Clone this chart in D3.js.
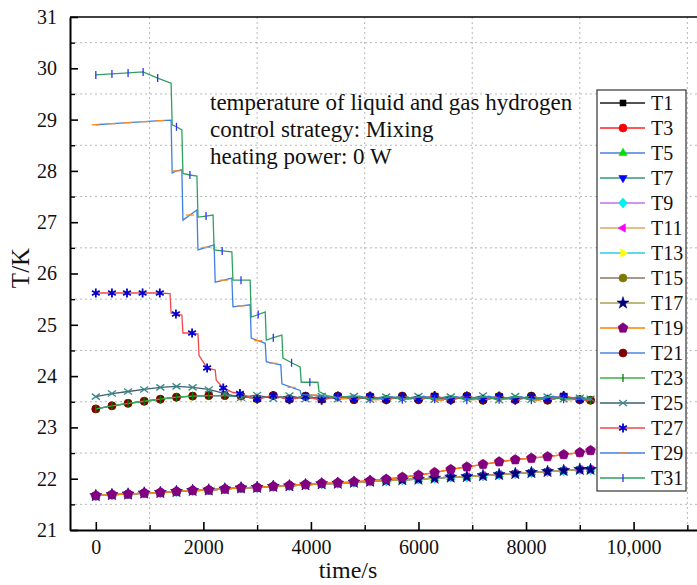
<!DOCTYPE html>
<html lang="en">
<head>
    <meta charset="UTF-8">
    <title>T/K vs time</title>
    <script src="https://d3js.org/d3.v7.min.js"></script>
    <style>
        body { margin: 0; background: #fff; }
        svg { display: block; }
        svg text { font-family: "Liberation Serif", "Times New Roman", Times, "DejaVu Serif", serif; fill: #111; }
        .grid line { stroke: #b8b8b8; stroke-width: 1; stroke-dasharray: 2,3; }
        .axis path, .axis line { stroke: #000; }
        .axis text { font-size: 20px; }
    </style>
</head>
<body>
<div id="chart"></div>
<script>
    // Zeitachse für die gleichmäßig abgetasteten Kurven (s)
    const timeGrid = [0, 300, 600, 900, 1200, 1500, 1800, 2100, 2400, 2700, 3000, 3300, 3600, 3900, 4200, 4500,
        4800, 5100, 5400, 5700, 6000, 6300, 6600, 6900, 7200, 7500, 7800, 8100, 8400, 8700, 9000, 9200];

    // Flüssigwasserstoff, untere Kurven
    const liquidLow = [21.67, 21.69, 21.70, 21.72, 21.73, 21.75, 21.77, 21.78, 21.80, 21.82, 21.83, 21.85, 21.86, 21.88, 21.90, 21.91,
        21.93, 21.95, 21.96, 21.98, 21.99, 22.01, 22.03, 22.04, 22.06, 22.08, 22.10, 22.12, 22.14, 22.16, 22.18, 22.18];
    // Flüssigwasserstoff, obere Kurven (steigen am Ende stärker)
    const liquidHigh = [21.67, 21.69, 21.70, 21.72, 21.73, 21.75, 21.77, 21.78, 21.80, 21.82, 21.83, 21.85, 21.87, 21.89, 21.91, 21.92,
        21.94, 21.96, 21.99, 22.03, 22.07, 22.12, 22.18, 22.23, 22.28, 22.33, 22.37, 22.40, 22.43, 22.47, 22.51, 22.55];
    // Gasphase nahe der Grenzfläche
    const gasMid = [23.36, 23.42, 23.47, 23.51, 23.55, 23.59, 23.61, 23.62, 23.62, 23.61, 23.56, 23.62, 23.55, 23.61, 23.55, 23.61,
        23.54, 23.60, 23.54, 23.61, 23.54, 23.60, 23.54, 23.61, 23.53, 23.60, 23.54, 23.61, 23.53, 23.60, 23.54, 23.53];
    const gasTop = [23.60, 23.66, 23.70, 23.74, 23.78, 23.80, 23.78, 23.74, 23.66, 23.58, 23.63, 23.56, 23.62, 23.55, 23.61, 23.55,
        23.61, 23.54, 23.60, 23.55, 23.61, 23.54, 23.60, 23.55, 23.62, 23.53, 23.61, 23.54, 23.60, 23.55, 23.58, 23.56];

    // obere Gasphase mit Stufen
    const t27Time = [0, 300, 580, 870, 1190, 1380, 1400, 1490, 1600, 1620, 1790, 1900, 1920, 2070, 2220, 2240, 2370, 2550, 2680, 3000,
        3300, 3600, 3900, 4200, 4500, 4800, 5100, 5400, 5700, 6000, 6300, 6600, 6900, 7200, 7500, 7800, 8100, 8400, 8700, 9000, 9200];
    const t27Temp = [25.62, 25.62, 25.62, 25.62, 25.62, 25.61, 25.23, 25.21, 25.19, 24.84, 24.84, 24.82, 24.40, 24.16, 24.12, 23.92, 23.77, 23.68, 23.66, 23.55,
        23.62, 23.54, 23.60, 23.53, 23.61, 23.55, 23.61, 23.54, 23.60, 23.55, 23.62, 23.53, 23.61, 23.54, 23.61, 23.53, 23.60, 23.55, 23.62, 23.54, 23.53];
    const t27Marks = [0, 300, 580, 870, 1190, 1490, 1790, 2070, 2370, 2680, 3000, 3300, 3600, 3900, 4200, 4500, 4800, 5100, 5400, 5700,
        6000, 6300, 6600, 6900, 7200, 7500, 7800, 8100, 8400, 8700, 9000];

    const t29Time = [0, 300, 600, 900, 1200, 1400, 1420, 1500, 1600, 1620, 1750, 1880, 1900, 2050, 2200, 2220, 2380, 2530, 2550, 2700,
        2870, 2890, 3020, 3150, 3170, 3300, 3440, 3460, 3640, 3800, 3820, 4050, 4300, 4600, 4900, 5200, 5500, 5800, 6100, 6400,
        6700, 7000, 7300, 7600, 7900, 8200, 8500, 8800, 9100, 9200];
    const t29Temp = [28.90, 28.92, 28.94, 28.96, 28.98, 28.99, 27.96, 28.00, 28.02, 27.04, 27.14, 27.24, 26.46, 26.51, 26.56, 25.83, 25.87, 25.91, 25.35, 25.37,
        25.39, 24.74, 24.69, 24.64, 24.28, 24.25, 24.22, 23.85, 23.78, 23.72, 23.64, 23.63, 23.60, 23.56, 23.61, 23.54, 23.60, 23.55, 23.61, 23.53,
        23.60, 23.54, 23.61, 23.55, 23.60, 23.53, 23.61, 23.54, 23.56, 23.55];
    const t29Marks = [0, 300, 600, 900, 1200, 1500, 1750, 2050, 2380, 2700, 3020, 3300, 3640, 4050, 4600, 5200, 5800, 6400, 7000, 7600, 8200, 8800];

    const t31Time = [0, 300, 600, 880, 1150, 1400, 1420, 1500, 1600, 1620, 1750, 1880, 1900, 2050, 2180, 2200, 2350, 2530, 2550, 2700,
        2870, 2890, 3020, 3150, 3170, 3300, 3460, 3480, 3640, 3800, 3820, 3980, 4130, 4150, 4300, 4500, 4800, 5100, 5400, 5700,
        6000, 6300, 6600, 6900, 7200, 7500, 7800, 8100, 8400, 8700, 9000, 9200];
    const t31Temp = [29.87, 29.89, 29.91, 29.93, 29.81, 29.71, 28.90, 28.86, 28.80, 27.95, 27.92, 27.90, 27.10, 27.12, 27.14, 26.46, 26.44, 26.42, 25.87, 25.87,
        25.87, 25.15, 25.20, 25.25, 24.70, 24.75, 24.80, 24.35, 24.26, 24.18, 23.88, 23.88, 23.88, 23.70, 23.62, 23.58, 23.62, 23.55, 23.61, 23.54,
        23.60, 23.55, 23.62, 23.53, 23.60, 23.54, 23.61, 23.53, 23.60, 23.55, 23.60, 23.53];
    const t31Marks = [0, 300, 600, 880, 1150, 1500, 1750, 2050, 2350, 2700, 3020, 3300, 3640, 3980, 4500, 5100, 5700, 6300, 6900, 7500, 8100, 8700];

    const seriesNames = ["T1", "T3", "T5", "T7", "T9", "T11", "T13", "T15", "T17", "T19", "T21", "T23", "T25", "T27", "T29", "T31"];
    const xMajorTicks = [0, 2000, 4000, 6000, 8000, 10000];
    const xMinorTicks = [1000, 3000, 5000, 7000, 9000, 11000];
    const yMajorTicks = [21, 22, 23, 24, 25, 26, 27, 28, 29, 30, 31];
    const yMinorTicks = [21.5, 22.5, 23.5, 24.5, 25.5, 26.5, 27.5, 28.5, 29.5, 30.5];
    const noteLines = ["temperature of liquid and gas hydrogen", "control strategy: Mixing", "heating power: 0 W"];

    // Linien-/Markerstile wie im Original (Origin)
    const styles = {
        T1:  { line: "#1a1a1a", shape: "square",  color: "#000000", time: timeGrid, temp: liquidLow },
        T3:  { line: "#ff2020", shape: "circle",  color: "#ff0000", time: timeGrid, temp: liquidHigh },
        T5:  { line: "#4a7fd6", shape: "triUp",   color: "#00dd00", time: timeGrid, temp: liquidLow },
        T7:  { line: "#2f9a78", shape: "triDown", color: "#0000ff", time: timeGrid, temp: liquidLow },
        T9:  { line: "#c070e0", shape: "diamond", color: "#00f0f0", time: timeGrid, temp: liquidLow },
        T11: { line: "#d8a860", shape: "triLeft", color: "#ff00ff", time: timeGrid, temp: liquidLow },
        T13: { line: "#30c8e8", shape: "triRight",color: "#ffff00", time: timeGrid, temp: gasMid },
        T15: { line: "#8a7866", shape: "circle",  color: "#7a7a00", time: timeGrid, temp: gasMid },
        T17: { line: "#a8a050", shape: "star",    color: "#000080", time: timeGrid, temp: liquidLow },
        T19: { line: "#ff8000", shape: "pentagon",color: "#800080", time: timeGrid, temp: liquidHigh },
        T21: { line: "#4f86e0", shape: "circle",  color: "#800000", time: timeGrid, temp: gasMid },
        T23: { line: "#3cb04a", shape: "vbar",    color: "#008000", time: timeGrid, temp: gasMid },
        T25: { line: "#3d5f6e", shape: "x",       color: "#3a8a8a", time: timeGrid, temp: gasTop },
        T27: { line: "#f04848", shape: "asterisk",color: "#0000d0", time: t27Time, temp: t27Temp, marks: t27Marks },
        T29: { line: "#3f7fe0", shape: "dash",    color: "#ff8a20", time: t29Time, temp: t29Temp, marks: t29Marks },
        T31: { line: "#2fa060", shape: "vbar",    color: "#3030ff", time: t31Time, temp: t31Temp, marks: t31Marks }
    };

    const width = 697;
    const height = 585;
    const serif = "'Liberation Serif', 'Times New Roman', Times, 'DejaVu Serif', serif";

    const svg = d3.select("#chart").append("svg")
        .attr("width", width)
        .attr("height", height)
        .attr("font-family", serif);

    const x = d3.scaleLinear().domain([-480, 11700]).range([70, 725]);
    const y = d3.scaleLinear().domain([21, 31]).range([530, 17]);

    // Gitterlinien (gepunktet, auf den Nebenteilstrichen)
    const grid = svg.append("g").attr("class", "grid");
    grid.selectAll(".gx").data(xMinorTicks).join("line")
        .attr("x1", d => x(d)).attr("x2", d => x(d))
        .attr("y1", y(31)).attr("y2", y(21));
    grid.selectAll(".gy").data(yMinorTicks).join("line")
        .attr("x1", x(-480)).attr("x2", x(11700))
        .attr("y1", d => y(d)).attr("y2", d => y(d));

    // Markerformen
    function markerPath(shape) {
        const r = 4;
        const poly = pts => "M" + pts.map(p => p.join(",")).join("L") + "Z";
        const tri = angle => poly(d3.range(3).map(i => {
            const a = angle + i * 2 * Math.PI / 3;
            return [4.8 * Math.cos(a), 4.8 * Math.sin(a)];
        }));
        switch (shape) {
            case "square": return `M-3,-3h6v6h-6Z`;
            case "circle": return d3.symbol(d3.symbolCircle, Math.PI * r * r)();
            case "triUp": return tri(-Math.PI / 2);
            case "triDown": return tri(Math.PI / 2);
            case "triLeft": return tri(Math.PI);
            case "triRight": return tri(0);
            case "diamond": return poly([[0, -5], [4.5, 0], [0, 5], [-4.5, 0]]);
            case "star": return d3.symbol(d3.symbolStar, 45)();
            case "pentagon": return poly(d3.range(5).map(i => {
                const a = -Math.PI / 2 + i * 2 * Math.PI / 5;
                return [5.2 * Math.cos(a), 5.2 * Math.sin(a)];
            }));
            case "vbar": return "M0,-4V4";
            case "dash": return "M-4,0H4";
            case "x": return "M-4,-3L4,3M-4,3L4,-3";
            case "asterisk": return "M0,-4.5V4.5M-3.9,-2.2L3.9,2.2M-3.9,2.2L3.9,-2.2";
        }
    }
    const strokeShapes = new Set(["vbar", "dash", "x", "asterisk"]);

    function drawMarker(g, shape, color) {
        const p = g.append("path").attr("d", markerPath(shape));
        if (strokeShapes.has(shape)) {
            p.attr("fill", "none").attr("stroke", color).attr("stroke-width", shape === "asterisk" ? 1.8 : 1.3);
        } else {
            p.attr("fill", color).attr("stroke", color).attr("stroke-width", 0.6);
        }
        return p;
    }

    const line = d3.line().x(d => x(d[0])).y(d => y(d[1]));
    const plot = svg.append("g");

    // Kurven in Legenden-Reihenfolge zeichnen
    seriesNames.forEach(name => {
        const s = styles[name];
        const pts = s.time.map((t, i) => [t, s.temp[i]]);
        plot.append("path")
            .datum(pts)
            .attr("fill", "none")
            .attr("stroke", s.line)
            .attr("stroke-width", 1.3)
            .attr("d", line);
        const markPts = s.marks ? pts.filter(p => s.marks.includes(p[0])) : pts;
        markPts.forEach(p => {
            const g = plot.append("g").attr("transform", `translate(${x(p[0])},${y(p[1])})`);
            drawMarker(g, s.shape, s.color);
        });
    });

    // Achsen
    const fmt = d => d >= 10000 ? d3.format(",")(d) : String(d);
    const styleAxis = g => g
        .attr("font-family", serif)
        .attr("font-size", 20);
    svg.append("g").attr("class", "axis")
        .attr("transform", `translate(0,${y(21)})`)
        .call(d3.axisBottom(x).tickValues(xMajorTicks).tickSizeInner(-8).tickSizeOuter(0).tickPadding(10).tickFormat(fmt))
        .call(styleAxis)
        .call(g => g.select(".domain").attr("stroke-width", 2))
        .call(g => g.selectAll(".tick line").attr("stroke-width", 1.6));
    svg.append("g").attr("class", "axis")
        .attr("transform", `translate(0,${y(21)})`)
        .call(d3.axisBottom(x).tickValues(xMinorTicks).tickSizeInner(-5).tickSizeOuter(0).tickFormat(""))
        .call(g => g.select(".domain").remove())
        .call(g => g.selectAll(".tick line").attr("stroke-width", 1.4));

    svg.append("g").attr("class", "axis")
        .attr("transform", `translate(${x(-480)},0)`)
        .call(d3.axisLeft(y).tickValues(yMajorTicks).tickSizeInner(-8).tickSizeOuter(0).tickPadding(13).tickFormat(d3.format("d")))
        .call(styleAxis)
        .call(g => g.select(".domain").attr("stroke-width", 2))
        .call(g => g.selectAll(".tick line").attr("stroke-width", 1.6));
    svg.append("g").attr("class", "axis")
        .attr("transform", `translate(${x(-480)},0)`)
        .call(d3.axisLeft(y).tickValues(yMinorTicks).tickSizeInner(-5).tickSizeOuter(0).tickFormat(""))
        .call(g => g.select(".domain").remove())
        .call(g => g.selectAll(".tick line").attr("stroke-width", 1.4));

    // oberer Rahmen
    svg.append("line")
        .attr("x1", x(-480)).attr("x2", x(11700))
        .attr("y1", y(31)).attr("y2", y(31))
        .attr("stroke", "#000").attr("stroke-width", 1.5);

    // Achsentitel
    svg.append("text")
        .attr("x", 348).attr("y", 578)
        .attr("text-anchor", "middle")
        .attr("font-size", 24)
        .text("time/s");
    svg.append("text")
        .attr("transform", "translate(29,268) rotate(-90)")
        .attr("text-anchor", "middle")
        .attr("font-size", 25)
        .text("T/K");

    // Anmerkung
    svg.append("g").selectAll("text").data(noteLines).join("text")
        .attr("x", 210)
        .attr("y", (d, i) => 110 + i * 27)
        .attr("font-size", 23)
        .text(d => d);

    // Legende
    const legend = svg.append("g").attr("transform", "translate(597,90)");
    legend.append("rect")
        .attr("width", 89).attr("height", 401)
        .attr("fill", "#fff").attr("stroke", "#333").attr("stroke-width", 1.2);
    seriesNames.forEach((name, i) => {
        const s = styles[name];
        const row = legend.append("g").attr("transform", `translate(0,${13 + i * 25})`);
        row.append("line").attr("x1", 3).attr("x2", 48).attr("stroke", s.line).attr("stroke-width", 1.3);
        drawMarker(row.append("g").attr("transform", "translate(26,0)"), s.shape, s.color);
        row.append("text")
            .attr("x", 54).attr("y", 6.5)
            .attr("font-size", 20)
            .text(name);
    });
</script>
</body>
</html>
